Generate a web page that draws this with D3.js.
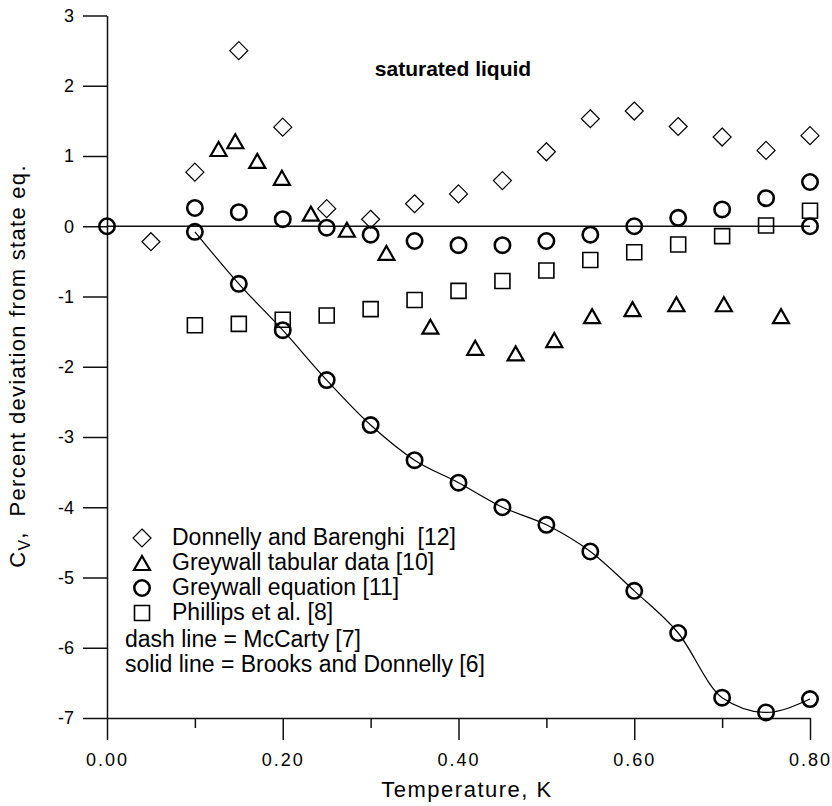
<!DOCTYPE html>
<html lang="en">
<head>
<meta charset="UTF-8">
<title>Cv deviation</title>
<script src="https://cdn.jsdelivr.net/npm/d3@7"></script>
<style>
  body { margin: 0; background: #fff; }
  svg { display: block; }
  text { font-family: "Liberation Sans", Arial, sans-serif; fill: #000; }
  .axis path, .axis line { stroke: #111; stroke-width: 1.5px; }
  .mark { fill: none; stroke: #000; }
</style>
</head>
<body>
<svg width="832" height="806"></svg>
<script>
// data
const xMajor = [0, 0.2, 0.4, 0.6, 0.8];
const xMinor = [0.1, 0.3, 0.5, 0.7];
const yTicks = [3, 2, 1, 0, -1, -2, -3, -4, -5, -6, -7];

const donnellyT = [0.05, 0.10, 0.15, 0.20, 0.25, 0.30, 0.35, 0.40, 0.45, 0.50, 0.55, 0.60, 0.65, 0.70, 0.75, 0.80];
const donnellyV = [-0.22, 0.77, 2.50, 1.41, 0.25, 0.10, 0.32, 0.46, 0.65, 1.06, 1.53, 1.64, 1.42, 1.27, 1.08, 1.29];

const tabularT = [0.127, 0.146, 0.171, 0.199, 0.232, 0.273, 0.318, 0.368, 0.419, 0.465, 0.509, 0.552, 0.598, 0.648, 0.702, 0.767];
const tabularV = [1.10, 1.21, 0.93, 0.69, 0.18, -0.05, -0.38, -1.43, -1.73, -1.81, -1.62, -1.28, -1.18, -1.11, -1.11, -1.28];

const equationT = [0, 0.10, 0.15, 0.20, 0.25, 0.30, 0.35, 0.40, 0.45, 0.50, 0.55, 0.60, 0.65, 0.70, 0.75, 0.80, 0.80];
const equationV = [0, 0.26, 0.20, 0.10, -0.02, -0.12, -0.21, -0.27, -0.27, -0.21, -0.12, 0.00, 0.12, 0.24, 0.40, 0.63, 0];

const brooksT = [0.10, 0.15, 0.20, 0.25, 0.30, 0.35, 0.40, 0.45, 0.50, 0.55, 0.60, 0.65, 0.70, 0.75, 0.80];
const brooksV = [-0.08, -0.82, -1.48, -2.19, -2.83, -3.33, -3.65, -4.00, -4.25, -4.63, -5.19, -5.79, -6.71, -6.92, -6.73];

const phillipsT = [0.10, 0.15, 0.20, 0.25, 0.30, 0.35, 0.40, 0.45, 0.50, 0.55, 0.60, 0.65, 0.70, 0.75, 0.80];
const phillipsV = [-1.41, -1.39, -1.33, -1.27, -1.18, -1.05, -0.92, -0.78, -0.63, -0.48, -0.37, -0.26, -0.14, 0.01, 0.22];

const legendLabels = ["Donnelly and Barenghi  [12]", "Greywall tabular data [10]", "Greywall equation [11]", "Phillips et al. [8]"];
const noteLabels = ["dash line = McCarty [7]", "solid line = Brooks and Donnelly [6]"];

let svg = d3.select('svg');

let x = d3.scaleLinear().domain([0, 0.8]).range([107, 810]);
let y = d3.scaleLinear().domain([-7, 3]).range([718, 15.5]);

// symbol shapes
const shapes = {
  diamond: 'M0,-9L9,0L0,9L-9,0Z',
  triangle: 'M0,-7L8,7L-8,7Z',
  circle: d3.symbol(d3.symbolCircle, Math.PI * 7.7 * 7.7)(),
  square: 'M-7.5,-7.5H7.5V7.5H-7.5Z'
};
const strokes = { diamond: 1.2, triangle: 2.2, circle: 2.6, square: 1.6 };

function zip(ts, vs) { return ts.map((t, i) => ({ t: t, v: vs[i] })); }

// axes
let yAxis = svg.append('g').attr('class', 'axis')
  .attr('transform', `translate(${x(0)},0)`)
  .call(d3.axisLeft(y).tickValues(yTicks).tickSize(24).tickSizeOuter(0).tickPadding(9).tickFormat(d => String(d)));
yAxis.selectAll('text').attr('font-size', 18).attr('font-family', '"Liberation Sans", Arial, sans-serif');

let xAxis = svg.append('g').attr('class', 'axis')
  .attr('transform', `translate(0,${y(-7)})`)
  .call(d3.axisBottom(x).tickValues(xMajor).tickSize(22).tickSizeOuter(0).tickPadding(13).tickFormat(d3.format('.2f')));
xAxis.selectAll('text').attr('font-size', 18).attr('letter-spacing', 2)
  .attr('font-family', '"Liberation Sans", Arial, sans-serif');

svg.append('g').attr('class', 'axis')
  .attr('transform', `translate(0,${y(-7)})`)
  .call(d3.axisBottom(x).tickValues(xMinor).tickSize(10).tickSizeOuter(0).tickFormat(''))
  .select('.domain').remove();

// zero line
svg.append('line')
  .attr('x1', x(0)).attr('x2', x(0.8))
  .attr('y1', y(0)).attr('y2', y(0))
  .attr('stroke', '#111').attr('stroke-width', 1.5);

// Brooks and Donnelly solid line
let line = d3.line().x(d => x(d.t)).y(d => y(d.v)).curve(d3.curveMonotoneX);
svg.append('path').datum(zip(brooksT, brooksV))
  .attr('d', line).attr('fill', 'none').attr('stroke', '#000').attr('stroke-width', 1.2);

function drawSet(ts, vs, shape) {
  svg.append('g').selectAll('path').data(zip(ts, vs)).join('path')
    .attr('class', 'mark')
    .attr('d', shapes[shape])
    .attr('stroke-width', strokes[shape])
    .attr('transform', d => `translate(${x(d.t)},${y(d.v)})`);
}
drawSet(phillipsT, phillipsV, 'square');
drawSet(tabularT, tabularV, 'triangle');
drawSet(donnellyT, donnellyV, 'diamond');
drawSet(equationT, equationV, 'circle');
drawSet(brooksT, brooksV, 'circle');

// legend
let legendShapes = ['diamond', 'triangle', 'circle', 'square'];
let lg = svg.append('g');
legendLabels.forEach((lab, i) => {
  let by = 545 + i * 25;
  lg.append('path').attr('class', 'mark').attr('d', shapes[legendShapes[i]])
    .attr('stroke-width', strokes[legendShapes[i]])
    .attr('transform', `translate(142,${by - 7})`);
  lg.append('text').attr('x', 172).attr('y', by).attr('font-size', 23)
    .style('white-space', 'pre').text(lab);
});
noteLabels.forEach((lab, i) => {
  lg.append('text').attr('x', 125).attr('y', 647 + i * 25).attr('font-size', 23).text(lab);
});

// titles
svg.append('text').attr('x', 453).attr('y', 76).attr('text-anchor', 'middle')
  .attr('font-size', 21).attr('font-weight', 'bold').text('saturated liquid');

svg.append('text').attr('x', 467).attr('y', 797).attr('text-anchor', 'middle')
  .attr('font-size', 22).attr('letter-spacing', 1.5).text('Temperature, K');

let yt = svg.append('text')
  .attr('transform', 'translate(25,366) rotate(-90)')
  .attr('text-anchor', 'middle').attr('font-size', 22).attr('letter-spacing', 1.3)
  .style('white-space', 'pre');
yt.append('tspan').text('C');
yt.append('tspan').attr('dy', 5).attr('font-size', 16).text('V');
yt.append('tspan').attr('dy', -5).text(',  Percent deviation from state eq.');
</script>
</body>
</html>
